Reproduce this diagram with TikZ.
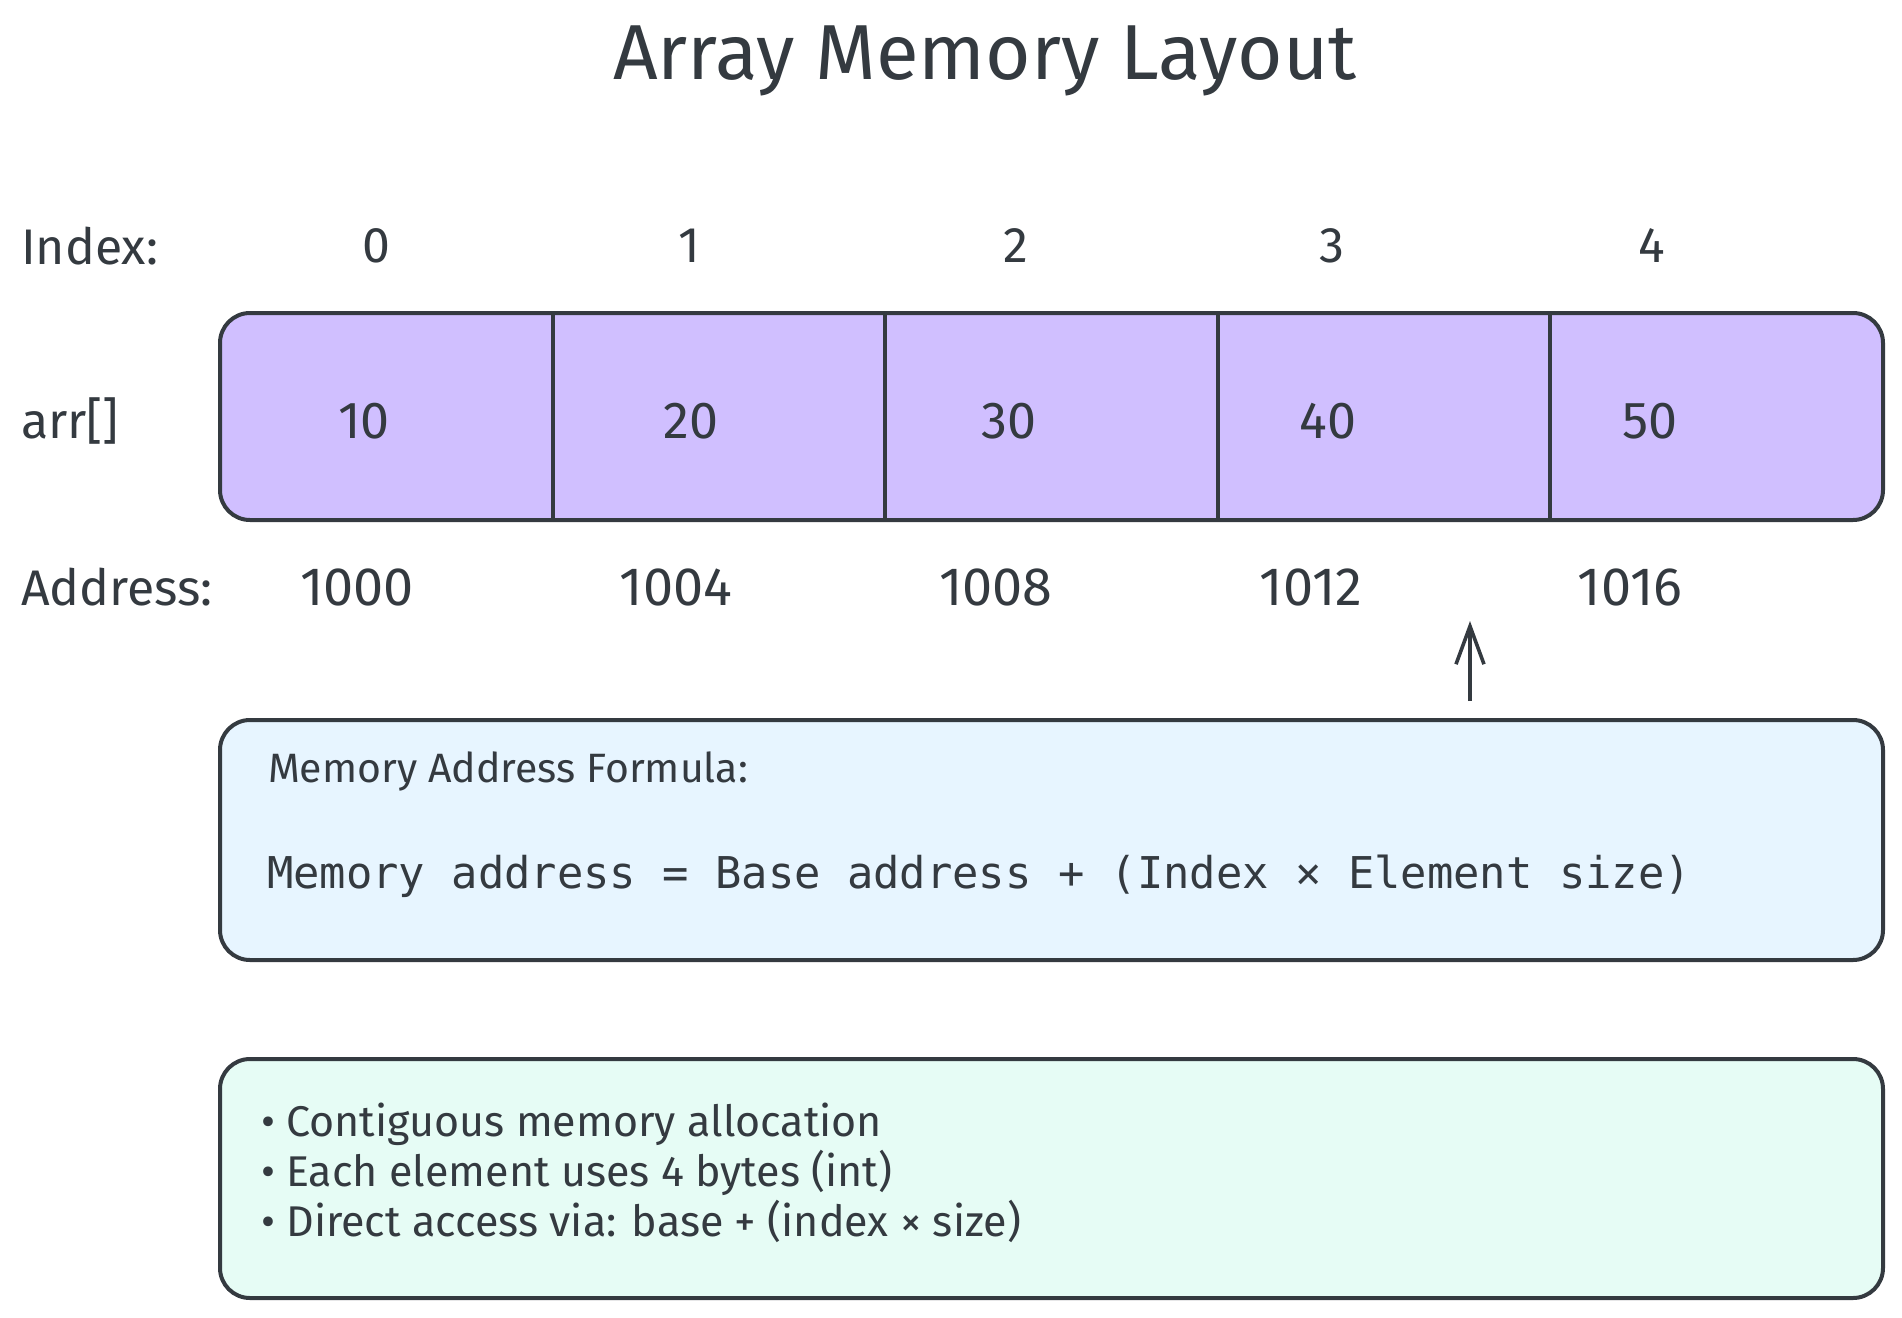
\documentclass[tikz,border=0pt]{standalone}
\usepackage{fontspec}
\setmainfont{Fira Sans}
\setmonofont{DejaVu Sans Mono}
\usetikzlibrary{arrows.meta}
\definecolor{ink}{HTML}{343A40}
\definecolor{arrfill}{HTML}{D0BFFF}
\definecolor{formfill}{HTML}{E7F5FF}
\definecolor{notefill}{HTML}{E6FCF5}
\begin{document}
\begin{tikzpicture}[x=0.5pt,y=-0.5pt,every node/.style={text=ink,font=\fontsize{25}{29}\selectfont},
  panel/.style={draw=ink,line width=2pt,rounded corners=15pt,minimum width=831.5pt,inner sep=0pt}]
\useasboundingbox (0,0) rectangle (1902,1318);
\node[font=\fontsize{39}{44}\selectfont] (title) at (985,61) {Array Memory Layout};
% row labels
\node[anchor=west] (idxlbl) at (14,246) {Index:};
\node[anchor=west] (arrlbl) at (14,421) {arr[]};
\node[anchor=west] (addrlbl) at (14,587) {Address:};
% the array itself
\node[panel,fill=arrfill,minimum height=103.5pt] (arr) at (1051.5,416.5) {};
\foreach \x in {553,885,1218,1550} \draw[ink,line width=1.6pt] (\x,313)--(\x,520);
\foreach \i/\ix/\vx/\ax/\v/\a in {0/376/364/357/10/1000,1/689/691/676/20/1004,2/1016/1009/996/30/1008,3/1332/1328/1311/40/1012,4/1652/1650/1630/50/1016} {
  \node (idx\i) at (\ix,246) {\i};
  \node[font=\fontsize{26}{30}\selectfont] (val\i) at (\vx,421) {\v};
  \node[font=\fontsize{27}{31}\selectfont] (addr\i) at (\ax,587) {\a};
}
% formula panel
\node[panel,fill=formfill,minimum height=120pt] (formula) at (1051.5,840) {};
\node[anchor=west,font=\fontsize{20.5}{24}\selectfont] (fhead) at (261,771) {Memory Address Formula:};
\node[anchor=west,font=\ttfamily\fontsize{21.9}{26}\selectfont] (fbody) at (260,876) {Memory address = Base address + (Index × Element size)};
\coordinate (tail) at (1470,701);
\coordinate (tip) at (1470,621);
\draw[ink,line width=1.8pt,-{Straight Barb[length=19pt,width=14pt]}] (tail) -- (tip);
% notes panel
\node[panel,fill=notefill,minimum height=119.5pt] (notes) at (1051.5,1178.5) {};
\node[anchor=west,align=left,font=\fontsize{21.5}{25}\selectfont] (bullets) at (254,1173) {• Contiguous memory allocation\\• Each element uses 4 bytes (int)\\• Direct access via: base + (index × size)};
\end{tikzpicture}
\end{document}
